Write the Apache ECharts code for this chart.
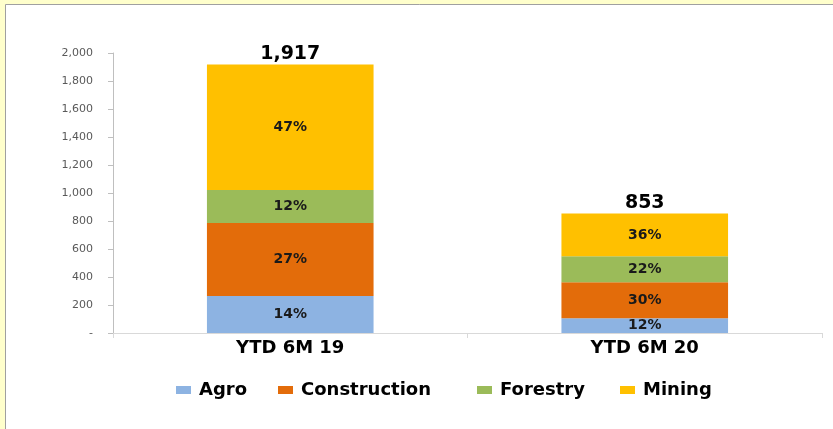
<!DOCTYPE html>
<html>
<head>
<meta charset="utf-8">
<script src="https://cdn.jsdelivr.net/npm/echarts@6/dist/echarts.min.js"></script>
<style>
  html, body { margin: 0; padding: 0; }
  #main { width: 833px; height: 429px; }
</style>
</head>
<body>
<div id="main"></div>
<script>
const categories = ['YTD 6M 19', 'YTD 6M 20'];
const seriesNames = ['Agro', 'Construction', 'Forestry', 'Mining'];
const agro = [264, 105];
const construction = [522, 258];
const forestry = [235, 185];
const mining = [896, 305];
const yTicks = [0, 200, 400, 600, 800, 1000, 1200, 1400, 1600, 1800, 2000];

const totals = categories.map((c, i) => agro[i] + construction[i] + forestry[i] + mining[i]);
const fmt = v => v.toLocaleString('en-US');
const font = 'DejaVu Sans';
const colors = ['#8db3e2', '#e36c0a', '#9bbb59', '#ffc000'];
// legend entries are spread out like in the original, one box each
const legendLeft = [171, 273, 472, 615];

function pctLabel(params) {
  return Math.round(params.value / totals[params.dataIndex] * 100) + '%';
}

function segment(name, data, color) {
  return {
    name: name,
    type: 'bar',
    stack: 'total',
    barWidth: '47%',
    data: data,
    itemStyle: { color: color },
    label: {
      show: true,
      position: 'inside',
      formatter: pctLabel,
      fontFamily: font,
      fontWeight: 'bold',
      fontSize: 14,
      color: '#1a1a1a'
    }
  };
}

const chart = echarts.init(document.getElementById('main'));
chart.setOption({
  backgroundColor: '#ffffcc',
  animation: false,
  textStyle: { fontFamily: font },
  graphic: [{
    type: 'rect',
    shape: { x: 5.5, y: 4.5, width: 840, height: 440 },
    style: { fill: '#ffffff', stroke: '#a0a0a0', lineWidth: 1 },
    z: -10
  }],
  grid: { left: 113, right: 11, top: 53, bottom: 96 },
  legend: seriesNames.map((n, i) => ({
    data: [n],
    left: legendLeft[i],
    top: 376,
    itemWidth: 15,
    itemHeight: 8,
    icon: 'rect',
    textStyle: { fontFamily: font, fontWeight: 'bold', fontSize: 18, color: '#000', padding: [0, 0, 0, 3] }
  })),
  xAxis: {
    type: 'category',
    data: categories,
    axisLine: { lineStyle: { color: '#d9d9d9' } },
    axisTick: { show: true, length: 5, lineStyle: { color: '#d9d9d9' } },
    axisLabel: { fontFamily: font, fontWeight: 'bold', fontSize: 18, color: '#000', margin: 6 }
  },
  yAxis: {
    type: 'value',
    min: 0,
    max: 2000,
    interval: 200,
    splitLine: { show: false },
    axisLine: { show: true, lineStyle: { color: '#bfbfbf' } },
    axisTick: { show: true, length: 5, lineStyle: { color: '#bfbfbf' } },
    axisLabel: {
      fontFamily: font,
      fontSize: 11,
      color: '#595959',
      margin: 20,
      formatter: v => yTicks.includes(v) ? (v === 0 ? '-' : fmt(v)) : ''
    }
  },
  series: [
    segment(seriesNames[0], agro, colors[0]),
    segment(seriesNames[1], construction, colors[1]),
    segment(seriesNames[2], forestry, colors[2]),
    segment(seriesNames[3], mining, colors[3]),
    {
      name: 'Total',
      type: 'bar',
      stack: 'total',
      barWidth: '47%',
      data: totals.map(() => 0),
      itemStyle: { color: 'transparent' },
      label: {
        show: true,
        position: 'top',
        distance: 1,
        formatter: p => fmt(totals[p.dataIndex]),
        fontFamily: font,
        fontWeight: 'bold',
        fontSize: 19,
        color: '#000'
      }
    }
  ]
});
</script>
</body>
</html>
